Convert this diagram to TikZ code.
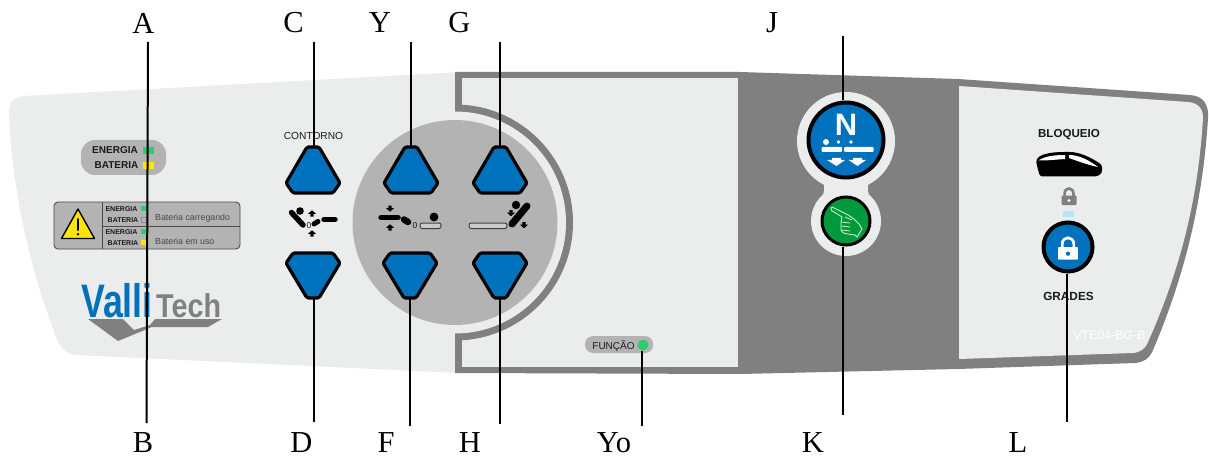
\documentclass[tikz,border=0pt]{standalone}
\usepackage{fontspec}
\setmainfont{Liberation Sans}
\newfontfamily\serifL{Liberation Serif}
\definecolor{panel}{HTML}{EBEDED}
\definecolor{frame}{HTML}{808080}
\definecolor{pill}{HTML}{B3B3B3}
\definecolor{blueB}{HTML}{0071BC}
\definecolor{greenB}{HTML}{009A3D}
\definecolor{led}{HTML}{2ECC71}
\definecolor{yel}{HTML}{FFE600}
\definecolor{ink}{HTML}{1A1A1A}
\tikzset{
  letter/.style={font=\serifL\fontsize{30.5}{30.5}\selectfont,inner sep=0pt,text=black},
  lead/.style={draw=black,line width=2pt},
  btnshape/.style={fill=blueB,draw=black,line width=3.2pt,rounded corners=1.5pt,line join=round},
  btnbox/.style={inner sep=0pt,minimum width=53pt,minimum height=46pt},
  lab/.style={inner sep=0pt,text=ink,font=\bfseries\fontsize{10}{10}\selectfont},
  tiny/.style={inner sep=0pt,text=ink,font=\bfseries\fontsize{7}{7}\selectfont},
  note/.style={inner sep=0pt,text=ink!80,font=\fontsize{8.8}{9}\selectfont},
  iconbar/.style={draw=black,line cap=round},
  iconbox/.style={draw=black!75,fill=pill!70!white,line width=1pt,rounded corners=2.2pt},
  zero/.style={inner sep=0pt,text=ink,font=\fontsize{8.5}{9}\selectfont},
}
\newcommand{\upbtn}[2]{%
  \draw[btnshape] (#2-6,147) -- (#2+6,147) -- (#2+27,183) -- (#2+20,193) -- (#2-20,193) -- (#2-27,183) -- cycle;
  \node[btnbox] (#1) at (#2,170) {};}
\newcommand{\downbtn}[2]{%
  \draw[btnshape] (#2-6,298) -- (#2+6,298) -- (#2+27,263) -- (#2+20,253) -- (#2-20,253) -- (#2-27,263) -- cycle;
  \node[btnbox] (#1) at (#2,275.5) {};}
\newcommand{\sarrow}[3]{%
  \fill[black] (#1-1.7,#2-3*#3) -- (#1+1.7,#2-3*#3) -- (#1+1.7,#2-.3*#3) -- (#1+4,#2-.3*#3) -- (#1,#2+3.2*#3) -- (#1-4,#2-.3*#3) -- (#1-1.7,#2-.3*#3) -- cycle;}
\newcommand{\lock}[5]{% x, y, colour, hole colour, scale
  \begin{scope}[shift={(#1,#2)},scale=#5]
  \draw[#3,line width=2.7pt] (-4.4,1) -- (-4.4,-2) .. controls (-4.4,-8.6) and (4.4,-8.6) .. (4.4,-2) -- (4.4,1);
  \fill[#3,rounded corners=.8pt] (-7.5,0) rectangle (7.5,9.5);
  \fill[#4] (0,5) circle (1.6pt);
  \end{scope}}
\begin{document}
\begin{tikzpicture}[x=1pt,y=-1pt]
\useasboundingbox (0,0) rectangle (1209,457);
\fill[white] (0,0) rectangle (1209,457);
% left light panel
\fill[panel] (9,113) .. controls (9,102) and (14,97) .. (24,96) -- (460,72) -- (460,373) -- (76,355)
  .. controls (66,354) and (61,348) .. (57,339) .. controls (30,270) and (12,190) .. (9,113) -- cycle;
% frame
\fill[frame] (455,72) -- (740,72) -- (958,79) -- (1190,95) .. controls (1203,96) and (1209,104) .. (1208,118)
  .. controls (1203,200) and (1185,275) .. (1153,350) .. controls (1149,359) and (1144,362) .. (1135,363) -- (958,369) -- (740,374) -- (455,373) -- cycle;
\fill[panel] (462,78) -- (738,78) -- (738,367) -- (462,367) -- cycle;
\fill[panel] (959,86) -- (1188,102) .. controls (1198,103) and (1203,108) .. (1203,118)
  .. controls (1198,200) and (1180,270) .. (1148,342) .. controls (1145,349) and (1141,352) .. (1133,353) -- (959,359) -- cycle;
\begin{scope}
  \clip (455,90) rectangle (600,360);
  \fill[frame] (455,222.5) circle (118pt);
\end{scope}
\fill[panel] (455,222.5) circle (111pt);
\fill[pill] (455,222.5) circle (102.5pt);

% energy pill
\fill[pill,rounded corners=14pt] (81,140) rectangle (166,175);
\node[lab] (tEnergia) at (115,150) {ENERGIA};
\node[lab] (tBateria) at (116.5,165.5) {BATERIA};
\fill[led] (143,147) rectangle (154,154);
\fill[yel] (143,162) rectangle (154,169);

% warning plate
\draw[fill=pill,draw=black!70,line width=.9pt,rounded corners=4pt] (54,202) rectangle (240,249);
\draw[black!70,line width=.9pt] (102,202) -- (102,249);
\draw[black!70,line width=.9pt] (102,226) -- (240,226);
\draw[fill=yel,draw=black,line width=1.4pt,line join=round] (78,209) -- (94.5,238.5) -- (61.5,238.5) -- cycle;
\draw[black,line width=2pt,line cap=round] (78,219) -- (78,230);
\fill[black] (78,234.3) circle (1.4pt);
\node[tiny] (t1) at (121.5,209) {ENERGIA};
\node[tiny] (t2) at (123,220) {BATERIA};
\node[tiny] (t3) at (121.5,232) {ENERGIA};
\node[tiny] (t4) at (123,243) {BATERIA};
\fill[led] (141,206) rectangle (147.5,211);
\draw[black!45,line width=.5pt] (141,217.5) rectangle (147.5,222);
\fill[led] (141,229) rectangle (147.5,234);
\fill[yel] (141,240) rectangle (147.5,245);
\node[note,anchor=west] (t5) at (155,218) {Bateria carregando};
\node[note,anchor=west] (t6) at (155,241) {Bateria em uso};

% logo
\node[inner sep=0pt,anchor=base west,text=blueB,xscale=.76] (logoA) at (81,317) {\bfseries\fontsize{47}{47}\selectfont Valli};
\node[inner sep=0pt,anchor=base west,text=frame,xscale=.87] (logoB) at (156,317) {\bfseries\fontsize{33}{33}\selectfont Tech};
\fill[frame,line join=round] (88,319) -- (123,319) -- (134,330) -- (150,325) -- (155,319) -- (222,319) -- (208,327) -- (152,327) -- (118,341) -- cycle;

% buttons
\node[inner sep=0pt,text=ink,font=\fontsize{10.2}{11}\selectfont] (tContorno) at (313.5,136) {CONTORNO};
\upbtn{bC}{313}\downbtn{bD}{313}
\upbtn{bY}{411}\downbtn{bF}{410}
\upbtn{bG}{500}\downbtn{bH}{500}

% icon 1
\draw[iconbar,line width=5.5pt] (291.5,212.5) -- (303,225);
\fill[black] (300,211) circle (3.8pt);
\node[zero] (z1) at (309,226) {0};
\draw[iconbar,line width=5pt] (314,224) -- (318,221.5);
\draw[iconbar,line width=5.5pt] (324,219.5) -- (335,219.5);
\sarrow{312}{213.5}{-1}
\sarrow{312}{233.5}{-1}
% icon 2
\draw[iconbar,line width=5.5pt] (381,217.5) -- (398,217.5);
\sarrow{390}{208.5}{1}
\sarrow{390}{227.5}{-1}
\draw[iconbar,line width=6.5pt] (404,219.5) -- (408,222);
\node[zero] (z2) at (415,226) {0};
\draw[iconbox] (420,223) rectangle (441,228.5);
\fill[black] (434,217) circle (4.4pt);
% icon 3
\draw[iconbox] (469,223) rectangle (507,228.5);
\draw[iconbar,line width=7pt] (512,224) -- (527,206);
\fill[black] (516,205) circle (4.2pt);
\sarrow{511}{213}{1}
\sarrow{524}{225}{1}

% funcao
\fill[pill,rounded corners=8pt] (585,336) rectangle (653,353);
\node[inner sep=0pt,text=ink,font=\fontsize{10}{10}\selectfont] (tFuncao) at (613.5,346) {FUNÇÃO};
\node[circle,fill=led,inner sep=0pt,minimum size=11pt] (ledF) at (643,345) {};

% N / hand group
\fill[panel] (846,141) circle (49pt);
\fill[panel] (846,221) circle (35pt);
\fill[panel] (818,175) .. controls (826,183) and (826,192) .. (820,200) -- (872,200) .. controls (866,192) and (866,183) .. (874,175) -- cycle;
\node[circle,fill=blueB,draw=black,line width=4pt,inner sep=0pt,minimum size=75pt] (bJ) at (846,140) {};
\node[inner sep=0pt,text=white,font=\bfseries\fontsize{31}{31}\selectfont] (tN) at (846,125) {N};
\fill[white] (826,142) circle (3pt);
\fill[white] (838.5,142) circle (1.8pt);
\fill[white] (851,142) circle (1.8pt);
\fill[white,rounded corners=1pt] (821.5,147) rectangle (842,152);
\fill[white,rounded corners=1pt] (844,147) rectangle (873.5,152);
\fill[white] (832,158) -- (841,158) -- (841,160) -- (845,160) -- (836.5,166) -- (827,160) -- (832,160) -- cycle;
\fill[white] (853,158) -- (862,158) -- (862,160) -- (866,160) -- (857.5,166) -- (848.5,160) -- (853,160) -- cycle;
\node[circle,fill=greenB,draw=black,line width=3pt,inner sep=0pt,minimum size=48pt] (bK) at (846,221) {};
\draw[panel!85!green,line width=.9pt,line join=round]
  (831,208) .. controls (830,210) and (832,211) .. (834,212) -- (842,217) -- (841,222) -- (841,229) .. controls (841,232) and (844,234) .. (848,234)
  -- (855,235) -- (857,237) -- (862,229) -- (859,224) -- (854,219) -- (848,215) -- (834,208) .. controls (833,207) and (832,207) .. (831,208) -- cycle;
\draw[panel!85!green,line width=.8pt] (841,222) -- (850,223) (841,226) -- (850,227) (842,230) -- (850,231) (845,217) -- (852,220);

% right side
\node[inner sep=0pt,text=ink,font=\bfseries\fontsize{11.6}{12}\selectfont] (tBloq) at (1069,135) {BLOQUEIO};
\fill[black,rounded corners=2.5pt] (1036,160) .. controls (1042,153) and (1055,152) .. (1067,152) .. controls (1080,152) and (1092,158) .. (1102,165) -- (1102,173) -- (1097,176.5) -- (1040,176.5) -- (1037,166) -- cycle;
\fill[white] (1038.5,160.5) .. controls (1045,156) and (1055,155) .. (1065,155) -- (1065,159) -- (1045,160.5) -- cycle;
\fill[white] (1069,155) .. controls (1080,155) and (1090,161) .. (1098,167) .. controls (1090,165.5) and (1080,162) .. (1069,158) -- cycle;
\lock{1069}{195.5}{frame}{white}{1}
\fill[cyan!30!white] (1063,211) rectangle (1074,217);
\node[circle,fill=blueB,draw=black,line width=4pt,inner sep=0pt,minimum size=49pt] (bL) at (1068,247) {};
\lock{1068}{247}{white}{blueB}{1.33}
\node[inner sep=0pt,text=ink,font=\bfseries\fontsize{11.8}{12}\selectfont] (tGrades) at (1068.5,296) {GRADES};
\node[inner sep=0pt,text=white,font=\fontsize{12.4}{12}\selectfont] (tCode) at (1109.5,335) {VTE04-BG-B};

% letters
\node[letter] (A) at (143.5,23) {A};
\node[letter] (C) at (293.5,23) {C};
\node[letter] (Y) at (380,23) {Y};
\node[letter] (G) at (459.5,23) {G};
\node[letter] (J) at (772,23) {J};
\node[letter] (B) at (143,443) {B};
\node[letter] (D) at (301.5,443) {D};
\node[letter] (F) at (386,443) {F};
\node[letter] (H) at (470,443) {H};
\node[letter] (Yo) at (614,443) {Yo};
\node[letter] (K) at (813,443) {K};
\node[letter] (L) at (1018,443) {L};

% connector free ends
\coordinate (eA) at (148,42);
\coordinate (eB) at (146.5,423);
\coordinate (eC) at (313.5,42);
\coordinate (eD) at (313.5,422);
\coordinate (eY) at (411,42);
\coordinate (eF) at (410,426);
\coordinate (eG) at (500,42);
\coordinate (eH) at (500,424);
\coordinate (eJ) at (843,36);
\coordinate (eK) at (843,415);
\coordinate (eYo) at (641.5,426);
\coordinate (eL) at (1067,422);

\draw[lead] (eA) -- (eB);
\draw[lead] (eC) -- (bC.north -| eC);
\draw[lead] (eD) -- (bD.south -| eD);
\draw[lead] (eY) -- (bY.north);
\draw[lead] (eF) -- (bF.south);
\draw[lead] (eG) -- (bG.north);
\draw[lead] (eH) -- (bH.south);
\draw[lead] (eJ) -- (eJ |- bJ.north);
\draw[lead] (eK) -- (eK |- bK.south);
\draw[lead] (eYo) -- (eYo |- ledF.south);
\draw[lead] (eL) -- (eL |- bL.south);
\end{tikzpicture}
\end{document}
